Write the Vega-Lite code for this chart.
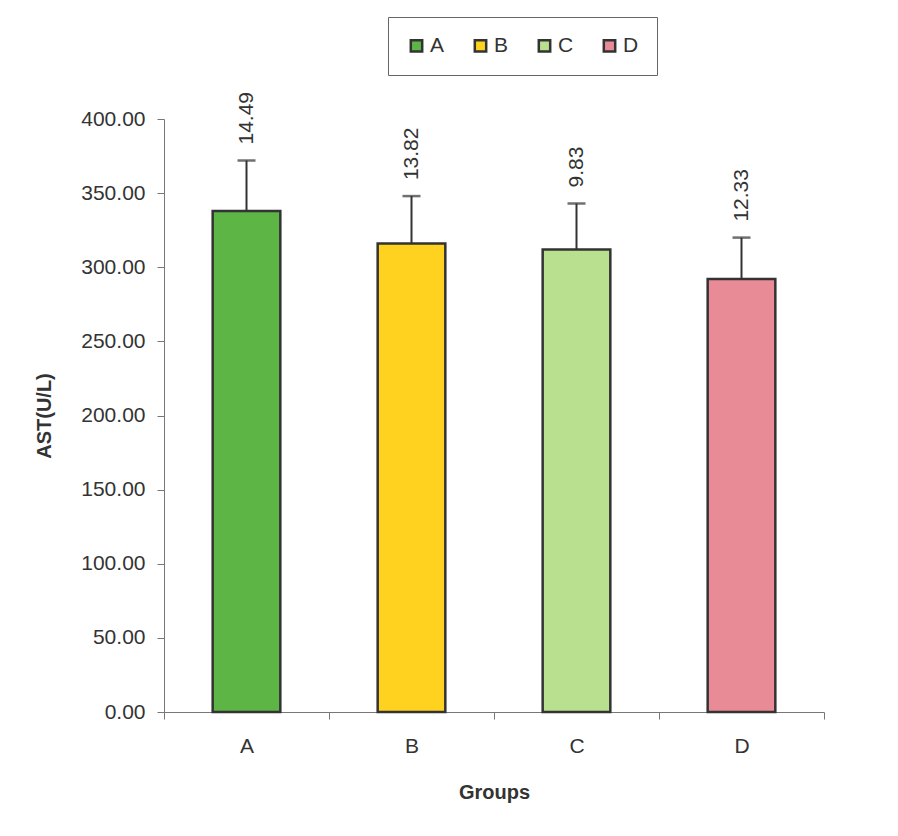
{
  "$schema": "https://vega.github.io/schema/vega-lite/v6.json",
  "width": 660,
  "height": 593,
  "padding": {"left": 34, "top": 16, "right": 10, "bottom": 10},
  "background": "white",
  "data": {
    "values": [
      {"group": "A", "mean": 338, "upper": 372, "sd": "14.49"},
      {"group": "B", "mean": 316, "upper": 348, "sd": "13.82"},
      {"group": "C", "mean": 312, "upper": 343, "sd": "9.83"},
      {"group": "D", "mean": 292, "upper": 320, "sd": "12.33"}
    ]
  },
  "config": {
    "font": "Liberation Sans",
    "view": {"stroke": null},
    "axis": {
      "domainColor": "#777",
      "tickColor": "#777",
      "labelColor": "#333",
      "titleColor": "#333",
      "labelFontSize": 21,
      "titleFontSize": 20,
      "titleFontWeight": "bold",
      "grid": false,
      "tickSize": 7
    }
  },
  "encoding": {
    "x": {
      "field": "group",
      "type": "nominal",
      "scale": {"paddingInner": 0, "paddingOuter": 0},
      "axis": {
        "title": "Groups",
        "labelAngle": 0,
        "tickBand": "extent",
        "labelPadding": 16,
        "titlePadding": 26
      }
    }
  },
  "layer": [
    {
      "mark": {"type": "bar", "width": {"band": 0.41}, "stroke": "#333", "strokeWidth": 2.5},
      "encoding": {
        "y": {
          "field": "mean",
          "type": "quantitative",
          "scale": {"domain": [0, 400]},
          "axis": {
            "title": "AST(U/L)",
            "values": [0, 50, 100, 150, 200, 250, 300, 350, 400],
            "format": ".2f",
            "labelPadding": 12,
            "titlePadding": 26
          }
        },
        "color": {
          "field": "group",
          "type": "nominal",
          "scale": {"domain": ["A", "B", "C", "D"], "range": ["#5DB545", "#FFD21F", "#B9E08E", "#E98B96"]},
          "legend": {
            "title": null,
            "orient": "none",
            "legendX": 224,
            "legendY": -102,
            "direction": "horizontal",
            "columns": 4,
            "columnPadding": 24,
            "padding": 18,
            "strokeColor": "#666",
            "fillColor": "white",
            "symbolType": "square",
            "symbolSize": 130,
            "symbolStrokeColor": "#333",
            "symbolStrokeWidth": 2.5,
            "labelFontSize": 21,
            "labelColor": "#333",
            "labelOffset": 3
          }
        }
      }
    },
    {
      "mark": {"type": "rule", "color": "#333", "strokeWidth": 2},
      "encoding": {
        "y": {"field": "mean", "type": "quantitative"},
        "y2": {"field": "upper"}
      }
    },
    {
      "mark": {"type": "tick", "color": "#333", "thickness": 2.5, "size": 18},
      "encoding": {
        "y": {"field": "upper", "type": "quantitative"}
      }
    },
    {
      "mark": {"type": "text", "angle": 270, "align": "left", "baseline": "middle", "dx": 16, "fontSize": 21, "color": "#333"},
      "encoding": {
        "y": {"field": "upper", "type": "quantitative"},
        "text": {"field": "sd"}
      }
    }
  ]
}
